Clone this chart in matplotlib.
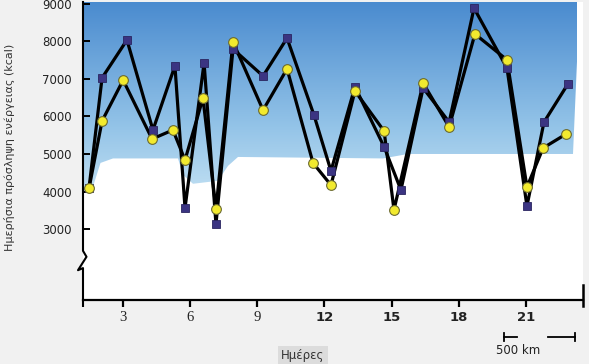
import matplotlib
matplotlib.use("Agg")
import matplotlib.pyplot as plt
import numpy as np
from matplotlib.colors import LinearSegmentedColormap

# days (points sit between whole days)
days_sq = [1.50, 2.08, 3.19, 4.35, 5.33, 5.78, 6.63, 7.16, 7.92, 9.26, 10.33, 11.53,
           12.29, 13.36, 14.66, 15.41, 16.40, 17.56, 18.67, 20.14, 21.03, 21.79, 22.86]
kcal_sq = [4100, 7030, 8040, 5640, 7350, 3560, 7430, 3130, 7800, 7080, 8090, 6040,
           4550, 6790, 5190, 4040, 6760, 5850, 8890, 7290, 3610, 5850, 6870]

days_ci = [1.50, 2.08, 3.02, 4.31, 5.24, 5.78, 6.58, 7.16, 7.92, 9.26, 10.33, 11.49,
           12.29, 13.36, 14.66, 15.10, 16.40, 17.56, 18.71, 20.14, 21.03, 21.75, 22.77]
kcal_ci = [4090, 5880, 6970, 5400, 5640, 4840, 6490, 3530, 7990, 6170, 7270, 4760,
           4170, 6680, 5610, 3510, 6890, 5720, 8200, 7510, 4120, 5160, 5530]

x_ticks = [3, 6, 9, 12, 15, 18, 21]
y_ticks = [3000, 4000, 5000, 6000, 7000, 8000, 9000]

fig = plt.figure(figsize=(5.89, 3.64), dpi=100, facecolor="#f1f1f1")
ax = fig.add_axes([83 / 589, 64 / 364, 500 / 589, 298 / 364])
ax.set_xlim(1.23, 23.53)
ax.set_ylim(1107, 9053)

# sky gradient + snow
sky = LinearSegmentedColormap.from_list(
    "sky", [(0.0, "#cbe6f5"), (0.4, "#94c4e8"), (1.0, "#4a8bcf")])
grad = np.linspace(0, 1, 256).reshape(-1, 1)
ax.imshow(grad, cmap=sky, origin="lower", aspect="auto",
          extent=[0, 0.988, 0.3, 1.0], transform=ax.transAxes, zorder=0)
ax.set_facecolor("white")
snow = [(0, 0), (0, 0.36), (0.02, 0.38), (0.035, 0.46), (0.06, 0.475), (0.19, 0.475),
        (0.20, 0.42), (0.22, 0.39), (0.27, 0.40), (0.29, 0.45), (0.31, 0.48),
        (0.60, 0.475), (0.65, 0.49), (0.98, 0.49), (0.988, 0.80), (1.0, 0.80), (1.0, 0)]
ax.fill([p[0] for p in snow], [p[1] for p in snow], color="white",
        transform=ax.transAxes, zorder=0.5, lw=0)

ax.plot(days_sq, kcal_sq, color="black", lw=2.3, zorder=2,
        marker="s", ms=6, mfc="#3b3482", mec="#2a2560", mew=0.6)
ax.plot(days_ci, kcal_ci, color="black", lw=2.3, zorder=1.9)
ax.plot(days_ci, kcal_ci, linestyle="none", zorder=3,
        marker="o", ms=7, mfc="#f2ea2e", mec="#6b6a30", mew=0.8)

# axes
for side in ("top", "right", "left"):
    ax.spines[side].set_visible(False)
ax.spines["bottom"].set_linewidth(1.6)
ax.set_xticks(x_ticks)
ax.set_xticklabels([str(t) for t in x_ticks], fontsize=9.5, color="#222222")
for lab in ax.get_xticklabels():
    if int(lab.get_text()) < 10:
        lab.set_family("Liberation Serif")
        lab.set_fontsize(10.5)
    else:
        lab.set_fontweight("bold")
ax.set_yticks(y_ticks)
ax.set_yticklabels([str(t) for t in y_ticks], fontsize=8.5, color="#222222")
ax.tick_params(axis="x", direction="out", length=5, width=1.6, pad=3)
ax.tick_params(axis="y", direction="in", length=5, width=1.4, pad=8)

# left spine with a break
lx = [0, 0, 0.007, -0.01, 0.0, 0.0]
ly = [1.0, 0.165, 0.145, 0.10, 0.107, -0.02]
ax.plot(lx, ly, color="black", lw=1.5, transform=ax.transAxes, clip_on=False, zorder=5)
# end tick on the right
ax.plot([1.0, 1.0], [-0.02, 0.05], color="black", lw=1.8,
        transform=ax.transAxes, clip_on=False, zorder=5)

fig.text(10 / 589, 1 - 147 / 364, "Ημερήσια πρόσληψη ενέργειας (kcal)",
         rotation=90, ha="center", va="center", fontsize=8, color="#333333")
fig.text(303 / 589, 1 - 356 / 364, "Ημέρες", ha="center", va="center",
         fontsize=8.5, color="#333333",
         bbox=dict(boxstyle="square,pad=0.3", fc="#dcdcdc", ec="none"))
fig.text(518 / 589, 1 - 351 / 364, "500 km", ha="center", va="center",
         fontsize=8.5, color="#222222")

# scale bar
fig.lines.append(plt.Line2D([504 / 589, 517 / 589], [1 - 337 / 364] * 2,
                            transform=fig.transFigure, color="black", lw=1.3))
fig.lines.append(plt.Line2D([548 / 589, 575 / 589], [1 - 337 / 364] * 2,
                            transform=fig.transFigure, color="black", lw=1.3))
for xp in (504, 575):
    fig.lines.append(plt.Line2D([xp / 589] * 2, [1 - 333 / 364, 1 - 341 / 364],
                                transform=fig.transFigure, color="black", lw=1.3))

fig.savefig("out.png", dpi=100, facecolor=fig.get_facecolor())
